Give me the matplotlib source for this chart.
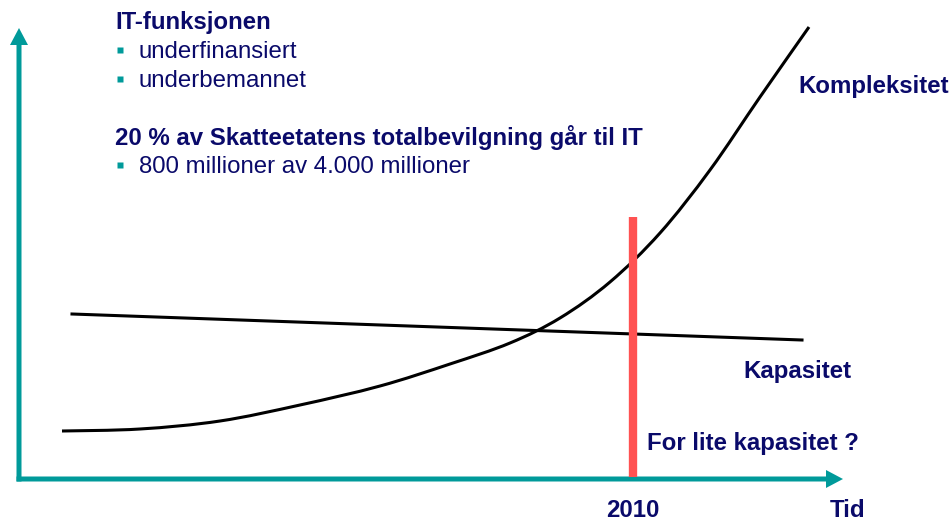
import matplotlib
matplotlib.use("Agg")
import matplotlib.pyplot as plt
import numpy as np
from matplotlib.path import Path
from matplotlib.patches import PathPatch

# ---- data (in canvas units: x = time, y = level, y grows downward) ----
time_complexity = [62, 140, 220, 300, 380, 450, 510, 560, 610, 660, 710, 760, 809]
complexity      = [431, 429, 421, 405, 386, 364, 343, 318, 282, 233, 170, 97, 27]
time_capacity   = [72, 802]
capacity        = [314, 340]
marker_year     = 2010
marker_x        = 633
marker_top      = 217

title1   = "IT-funksjonen"
bullets1 = ["underfinansiert", "underbemannet"]
title2   = "20 % av Skatteetatens totalbevilgning går til IT"
bullets2 = ["800 millioner av 4.000 millioner"]

NAVY = "#0a0a6a"
TEAL = "#009a9a"
RED = "#ff5252"

plt.rcParams['font.family'] = ['Liberation Sans', 'DejaVu Sans']


def smooth_path(xs, ys):
    """Catmull-Rom through the points, expressed as cubic Bezier segments."""
    p = np.column_stack([xs, ys]).astype(float)
    p_ext = np.vstack([p[0], p, p[-1]])
    verts = [p[0]]
    codes = [Path.MOVETO]
    for i in range(1, len(p_ext) - 2):
        p0, p1, p2, p3 = p_ext[i - 1], p_ext[i], p_ext[i + 1], p_ext[i + 2]
        c1 = p1 + (p2 - p0) / 6.0
        c2 = p2 - (p3 - p1) / 6.0
        verts += [c1, c2, p2]
        codes += [Path.CURVE4] * 3
    return Path(verts, codes)


fig = plt.figure(figsize=(9.52, 5.21), dpi=100)
ax = fig.add_axes([0, 0, 1, 1])
ax.set_xlim(0, 952)
ax.set_ylim(521, 0)
ax.axis('off')

axis_y = 479
axis_x = 19

# axes with arrows
ax.arrow(axis_x, axis_y + 2.5, 0, 28 - (axis_y + 2.5), width=5, head_width=18, head_length=17,
         length_includes_head=True, color=TEAL, lw=0)
ax.arrow(axis_x - 2.5, axis_y, 843 - (axis_x - 2.5), 0, width=5, head_width=18, head_length=17,
         length_includes_head=True, color=TEAL, lw=0)

# red marker bar
ax.plot([marker_x, marker_x], [marker_top, axis_y - 2], color=RED, lw=6, solid_capstyle='butt', zorder=3)

# curves
ax.plot(time_capacity, capacity, color='black', lw=2.2, zorder=2)
ax.add_patch(PathPatch(smooth_path(time_complexity, complexity), fill=False,
                       edgecolor='black', lw=2.2, zorder=2))

fs = 17.3
# text block
ax.text(115, 29, title1, color=NAVY, fontsize=fs, fontweight='bold', va='baseline', ha='left')
for i, b in enumerate(bullets1):
    yb = 58 + 29 * i
    ax.text(139, yb, b, color=NAVY, fontsize=fs, va='baseline', ha='left')
    ax.plot([120], [yb - 8], marker='s', ms=4.5, color=TEAL, mec='none')
ax.text(115, 145, title2, color=NAVY, fontsize=fs, fontweight='bold', va='baseline', ha='left')
for i, b in enumerate(bullets2):
    yb = 173 + 29 * i
    ax.text(139, yb, b, color=NAVY, fontsize=fs, va='baseline', ha='left')
    ax.plot([120], [yb - 8], marker='s', ms=4.5, color=TEAL, mec='none')

ax.text(798, 93, "Kompleksitet", color=NAVY, fontsize=fs, fontweight='bold', va='baseline', ha='left')
ax.text(743, 378, "Kapasitet", color=NAVY, fontsize=fs, fontweight='bold', va='baseline', ha='left')
ax.text(647, 450, "For lite kapasitet ?", color=NAVY, fontsize=fs, fontweight='bold', va='baseline', ha='left')
ax.text(marker_x, 517, str(marker_year), color=NAVY, fontsize=fs, fontweight='bold', va='baseline', ha='center')
ax.text(848, 517, "Tid", color=NAVY, fontsize=fs, fontweight='bold', va='baseline', ha='center')

fig.savefig("out.png", dpi=100)
